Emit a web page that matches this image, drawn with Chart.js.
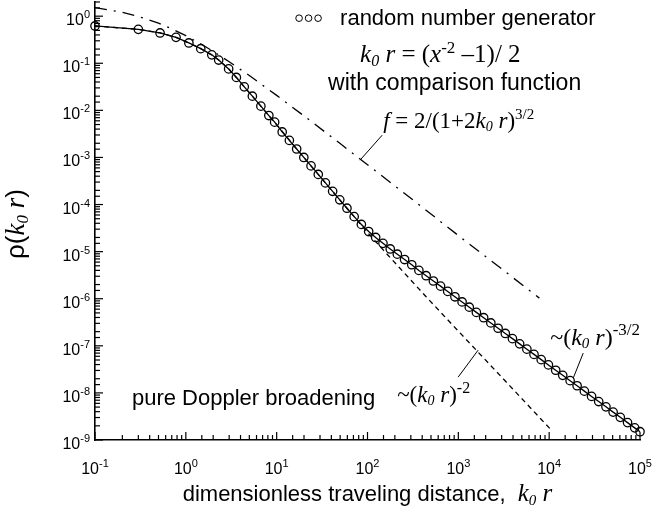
<!DOCTYPE html>
<html>
<head>
    <title>Random number generator distribution</title>
    <script src="https://cdn.jsdelivr.net/npm/chart.js"></script>
    <style>
        body {
            margin: 0;
            background: #fff;
        }
        .chart-box {
            width: 655px;
            height: 515px;
        }
    </style>
</head>
<body>
    <div class="chart-box">
        <canvas id="rhoChart" width="655" height="515"></canvas>
    </div>

    <script>
        // sampled points (circles + solid line)
        const mcX = [0.1, 0.3, 0.52, 0.78, 1.08, 1.46, 1.93, 2.3, 2.96, 3.6, 4.4, 5.4, 6.7, 8.2, 9.5,
            11.5, 13.8, 16.6, 19.9, 23.9, 28.7, 34.4, 41.3, 49.5, 59.4, 71.3, 85.6, 103, 123, 148, 178,
            213, 256, 307, 368, 442, 531, 637, 764, 917, 1100, 1320, 1580, 1900, 2280, 2740, 3290,
            3940, 4730, 5680, 6810, 8170, 9810, 11800, 14100, 17000, 20300, 24400, 29300, 35100,
            42200, 50600, 60700, 72900, 87400, 100000];
        const mcY = [0.62, 0.525, 0.44, 0.355, 0.27, 0.204, 0.151, 0.117, 0.0759, 0.050, 0.0316, 0.020,
            0.0123, 0.00776, 0.00562,
            3.48e-3, 2.30e-3, 1.51e-3, 1.00e-3, 6.62e-4, 4.36e-4, 2.88e-4, 1.91e-4, 1.26e-4, 8.36e-5,
            5.53e-5, 3.78e-5, 2.67e-5, 2.00e-5, 1.50e-5, 1.14e-5, 8.83e-6, 6.79e-6, 5.26e-6, 3.99e-6,
            3.08e-6, 2.38e-6, 1.85e-6, 1.43e-6, 1.10e-6, 8.55e-7, 6.61e-7, 5.13e-7, 3.95e-7, 3.06e-7,
            2.36e-7, 1.83e-7, 1.42e-7, 1.10e-7, 8.49e-8, 6.58e-8, 5.09e-8, 3.93e-8, 3.03e-8, 2.36e-8,
            1.82e-8, 1.42e-8, 1.09e-8, 8.43e-9, 6.55e-9, 5.06e-9, 3.91e-9, 3.03e-9, 2.34e-9, 1.81e-9,
            1.50e-9];

        // pure Doppler broadening (dashed)
        const dopX = [0.1, 0.3, 0.52, 0.78, 1.08, 1.46, 1.93, 2.3, 2.96, 3.6, 4.4, 5.4, 6.7, 8.2, 9.5,
            16.6, 28.7, 49.5, 71.3, 85.6, 103, 148, 256, 442, 1000, 3000, 10700];
        const dopY = [0.62, 0.525, 0.44, 0.355, 0.27, 0.204, 0.151, 0.117, 0.0759, 0.050, 0.0316, 0.020,
            0.0123, 0.00776, 0.00562, 1.51e-3, 4.36e-4, 1.26e-4, 5.53e-5, 3.63e-5, 2.40e-5, 1.10e-5,
            3.47e-6, 1.10e-6, 2.05e-7, 2.16e-8, 1.58e-9];

        // comparison function (dash-dot)
        const cmpX = [0.1, 0.2, 0.3, 0.5, 0.7, 1, 1.5, 2, 3, 5, 10, 20, 50, 100, 300, 1000, 3000, 7800];
        const cmpY = [1.52, 1.21, 0.99, 0.71, 0.538, 0.385, 0.25, 0.179, 0.108, 0.0548, 0.0208, 0.00762,
            0.00197, 7.0e-4, 1.36e-4, 2.2e-5, 4.3e-6, 1.03e-6];

        // tick label exponents
        const xTickExps = [-1, 0, 1, 2, 3, 4, 5];
        const yTickExps = [0, -1, -2, -3, -4, -5, -6, -7, -8, -9];

        const SANS = '"Liberation Sans", Arial, sans-serif';
        const SERIF = '"Liberation Serif", "Times New Roman", serif';

        function toPoints(xs, ys) {
            return xs.map((x, i) => ({ x: x, y: ys[i] }));
        }

        // draw a row of text runs (font / vertical shift) starting at x, baseline y
        function drawRuns(ctx, runs, x, y, align) {
            let total = 0;
            runs.forEach(r => { ctx.font = r.f; total += ctx.measureText(r.t).width; });
            let cx = align === 'right' ? x - total : (align === 'center' ? x - total / 2 : x);
            runs.forEach(r => {
                ctx.font = r.f;
                ctx.fillText(r.t, cx, y + (r.dy || 0));
                cx += ctx.measureText(r.t).width;
            });
        }

        function powRuns(e) {
            return [
                { t: '10', f: '16px ' + SANS },
                { t: String(e), f: '11px ' + SANS, dy: -7 }
            ];
        }

        const it = (s) => 'italic ' + s + 'px ' + SERIF;
        const rm = (s) => s + 'px ' + SERIF;

        // annotations anchored in data coordinates
        const notes = [
            { x: 49.9, y: 0.644, runs: [{ t: 'random number generator', f: '22px ' + SANS }], legend: true },
            { x: 82.8, y: 0.1055, runs: [
                { t: 'k', f: it(25) }, { t: '0', f: it(16), dy: 4 }, { t: ' r', f: it(25) },
                { t: ' = (', f: rm(25) }, { t: 'x', f: it(25) }, { t: '-2', f: rm(17), dy: -9 },
                { t: ' \u20131)/ 2', f: rm(25) }] },
            { x: 36.8, y: 0.0268, runs: [{ t: 'with comparison function', f: '23px ' + SANS }] },
            { x: 148.6, y: 0.00419, runs: [
                { t: 'f', f: it(23) }, { t: ' = 2/(1+2', f: rm(23) }, { t: 'k', f: it(23) },
                { t: '0', f: it(14), dy: 3 }, { t: ' r', f: it(23) }, { t: ')', f: rm(23) },
                { t: '3/2', f: rm(15), dy: -9 }] },
            { x: 0.255, y: 5.5e-9, runs: [{ t: 'pure Doppler broadening', f: '22px ' + SANS }] },
            { x: 212, y: 6.4e-9, runs: [
                { t: '~(', f: rm(23) }, { t: 'k', f: it(23) }, { t: '0', f: it(14), dy: 3 },
                { t: ' r', f: it(23) }, { t: ')', f: rm(23) }, { t: '-2', f: rm(16), dy: -9 }] },
            { x: 10260, y: 1.035e-7, runs: [
                { t: '~(', f: rm(24) }, { t: 'k', f: it(24) }, { t: '0', f: it(15), dy: 3 },
                { t: ' r', f: it(24) }, { t: ')', f: rm(24) }, { t: '-3/2', f: rm(17), dy: -10 }] }
        ];

        // leader lines, data coordinates
        const leaders = [
            [145, 2.97e-3, 82.8, 8.77e-4],
            [995, 2.16e-8, 1652, 8.1e-8],
            [23700, 7.0e-8, 18400, 2.06e-8]
        ];

        const decorPlugin = {
            id: 'decor',
            afterDraw(chart) {
                const ctx = chart.ctx;
                const xs = chart.scales.x, ys = chart.scales.y;
                const area = chart.chartArea;
                ctx.save();
                ctx.strokeStyle = '#000';
                ctx.fillStyle = '#000';
                ctx.lineWidth = 1.2;

                const isMajor = v => Math.abs(Math.log10(v) - Math.round(Math.log10(v))) < 1e-6;

                // inward tick marks
                xs.ticks.forEach(t => {
                    const px = xs.getPixelForValue(t.value);
                    const len = isMajor(t.value) ? 8 : 5;
                    ctx.beginPath();
                    ctx.moveTo(px, area.bottom);
                    ctx.lineTo(px, area.bottom - len);
                    ctx.stroke();
                });
                ys.ticks.forEach(t => {
                    const py = ys.getPixelForValue(t.value);
                    const len = isMajor(t.value) ? 8 : 5;
                    ctx.beginPath();
                    ctx.moveTo(area.left, py);
                    ctx.lineTo(area.left + len, py);
                    ctx.stroke();
                });

                // tick labels
                ctx.textBaseline = 'alphabetic';
                xTickExps.forEach(e => {
                    const px = xs.getPixelForValue(Math.pow(10, e));
                    drawRuns(ctx, powRuns(e), px, area.bottom + 34, 'center');
                });
                yTickExps.forEach(e => {
                    const py = ys.getPixelForValue(Math.pow(10, e));
                    drawRuns(ctx, powRuns(e), area.left - 5, py + 9, 'right');
                });

                // axis titles
                drawRuns(ctx, [
                    { t: 'dimensionless traveling distance,  ', f: '22px ' + SANS },
                    { t: 'k', f: it(25) }, { t: '0', f: it(15), dy: 4 }, { t: ' r', f: it(25) }
                ], (area.left + area.right) / 2, 501, 'center');

                ctx.save();
                ctx.translate(24, 224);
                ctx.rotate(-Math.PI / 2);
                drawRuns(ctx, [
                    { t: '\u03c1(', f: '26px ' + SANS }, { t: 'k', f: it(27) },
                    { t: '0', f: it(17), dy: 4 }, { t: ' r', f: it(27) }, { t: ')', f: '26px ' + SANS }
                ], 0, 0, 'center');
                ctx.restore();

                // annotations
                notes.forEach(n => {
                    const px = xs.getPixelForValue(n.x), py = ys.getPixelForValue(n.y);
                    drawRuns(ctx, n.runs, px, py, 'left');
                    if (n.legend) {
                        ctx.lineWidth = 1;
                        [-41, -31.5, -22].forEach(dx => {
                            ctx.beginPath();
                            ctx.arc(px + dx, py - 7, 3.3, 0, Math.PI * 2);
                            ctx.stroke();
                        });
                    }
                });
                ctx.lineWidth = 1;
                leaders.forEach(l => {
                    ctx.beginPath();
                    ctx.moveTo(xs.getPixelForValue(l[0]), ys.getPixelForValue(l[1]));
                    ctx.lineTo(xs.getPixelForValue(l[2]), ys.getPixelForValue(l[3]));
                    ctx.stroke();
                });
                ctx.restore();
            }
        };

        const ctx = document.getElementById('rhoChart').getContext('2d');
        new Chart(ctx, {
            type: 'scatter',
            data: {
                datasets: [
                    {
                        label: 'random number generator',
                        data: toPoints(mcX, mcY),
                        showLine: true,
                        borderColor: '#000',
                        borderWidth: 1.3,
                        pointStyle: 'circle',
                        pointRadius: 4.2,
                        pointBorderWidth: 1.3,
                        pointBorderColor: '#000',
                        pointBackgroundColor: 'rgba(0,0,0,0)',
                        clip: false
                    },
                    {
                        label: 'pure Doppler broadening',
                        data: toPoints(dopX, dopY),
                        showLine: true,
                        borderColor: '#000',
                        borderWidth: 1.3,
                        borderDash: [5, 4],
                        pointRadius: 0,
                        clip: false
                    },
                    {
                        label: 'comparison function',
                        data: toPoints(cmpX, cmpY),
                        showLine: true,
                        borderColor: '#000',
                        borderWidth: 1.3,
                        borderDash: [12, 7, 2, 7],
                        pointRadius: 0,
                        clip: false
                    }
                ]
            },
            options: {
                responsive: false,
                animation: false,
                events: [],
                layout: {
                    autoPadding: false,
                    padding: { top: 2, right: 15, left: 0, bottom: 0 }
                },
                plugins: {
                    legend: { display: false },
                    tooltip: { enabled: false }
                },
                scales: {
                    x: {
                        type: 'logarithmic',
                        min: 0.1,
                        max: 100000,
                        grid: { display: false },
                        border: { display: true, color: '#000', width: 1.6 },
                        ticks: { display: false, autoSkip: false },
                        afterFit(scale) { scale.height = 75; }
                    },
                    y: {
                        type: 'logarithmic',
                        min: 1e-9,
                        max: 2,
                        grid: { display: false },
                        border: { display: true, color: '#000', width: 1.6 },
                        ticks: { display: false, autoSkip: false },
                        afterFit(scale) { scale.width = 95; }
                    }
                }
            },
            plugins: [decorPlugin]
        });
    </script>
</body>
</html>
